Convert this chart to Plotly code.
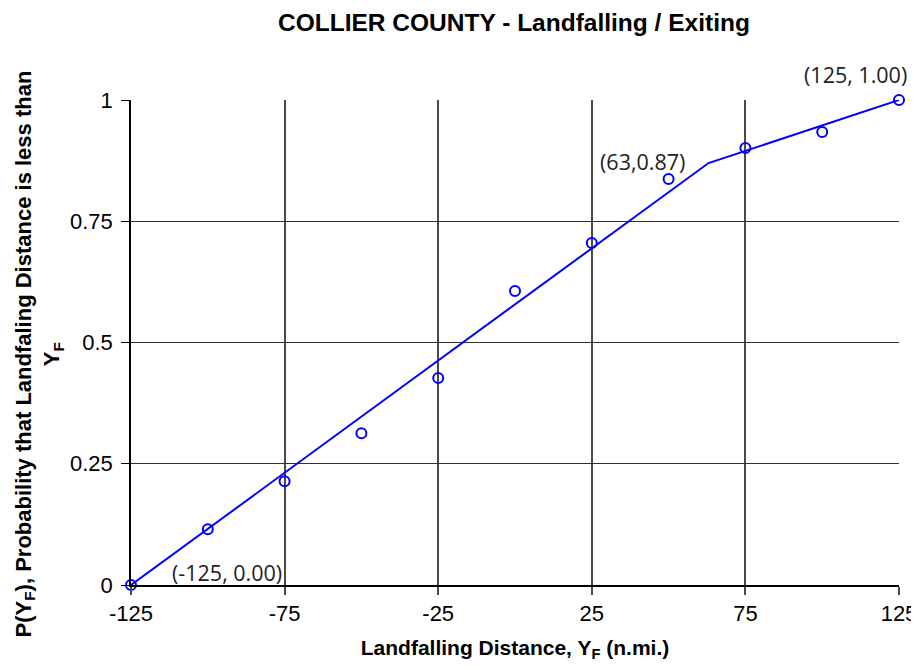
import plotly.graph_objects as go

# Data
distances = [-125, -100, -75, -50, -25, 0, 25, 50, 75, 100, 125]
probabilities = [0.0, 0.115, 0.214, 0.313, 0.427, 0.606, 0.705, 0.837, 0.901, 0.934, 1.0]
fit_x = [-125, 63, 125]
fit_y = [0.0, 0.87, 1.0]
label_texts = ["(-125, 0.00)", "(63,0.87)", "(125, 1.00)"]
label_x = [-93.8, 41.5, 111.0]
label_y = [0.026, 0.874, 1.0]
label_shift = [0, 0, 26]

x_ticks = [-125, -75, -25, 25, 75, 125]
y_ticks = [0, 0.25, 0.5, 0.75, 1]
y_tick_text = ["0", "0.25", "0.5", "0.75", "1"]

BLUE = "#0000FF"
FONT = "Liberation Sans, Arial"

fig = go.Figure()
fig.add_trace(go.Scatter(x=fit_x, y=fit_y, mode="lines",
                         line=dict(color=BLUE, width=2), cliponaxis=False,
                         showlegend=False, hoverinfo="skip"))
fig.add_trace(go.Scatter(x=distances, y=probabilities, mode="markers",
                         marker=dict(symbol="circle-open", size=10, color=BLUE,
                                     line=dict(color=BLUE, width=2)),
                         cliponaxis=False, showlegend=False))

for t, ax, ay, sh in zip(label_texts, label_x, label_y, label_shift):
    fig.add_annotation(x=ax, y=ay, text=t, showarrow=False, xref="x", yref="y",
                       yshift=sh,
                       font=dict(family="Open Sans", size=21.5, color="#222222"))

# Y axis title (as rotated annotation for exact placement)
fig.add_annotation(
    text="<b>P(Y<sub>F</sub>), Probability that Landfaling Distance is less than<br>Y<sub>F</sub></b>",
    xref="paper", yref="paper", x=0, y=0.5, xanchor="center", yanchor="middle",
    xshift=-93, yshift=-12, textangle=-90, showarrow=False,
    font=dict(size=22, family=FONT, color="black"))

fig.update_layout(
    width=911, height=654,
    margin=dict(l=123, r=20, t=92, b=77),
    paper_bgcolor="white", plot_bgcolor="white",
    title=dict(text="<b>COLLIER COUNTY - Landfalling / Exiting</b>",
               x=0.5554, xanchor="center", y=0.9786, yanchor="middle",
               font=dict(family=FONT, size=24.5, color="black")),
    font=dict(family=FONT, color="black"),
)

fig.update_xaxes(range=[-125, 125], tickvals=x_ticks,
                 ticktext=[str(v) for v in x_ticks],
                 showgrid=True, gridcolor="#4a4a4a", gridwidth=1.5,
                 showline=True, linecolor="black", linewidth=1.5,
                 ticks="outside", ticklen=8, tickcolor="#4a4a4a", tickwidth=1.5,
                 tickfont=dict(size=22, family=FONT),
                 ticklabeloverflow="allow",
                 zeroline=False, automargin=False,
                 title=dict(text="<b>Landfalling Distance, Y<sub>F</sub> (n.mi.)</b>",
                            font=dict(size=21, family=FONT),
                            standoff=26))
fig.update_yaxes(range=[0, 1], tickvals=y_ticks, ticktext=y_tick_text,
                 showgrid=True, gridcolor="#333333", gridwidth=1.3,
                 showline=True, linecolor="black", linewidth=1.5,
                 ticks="outside", ticklen=8, tickcolor="black", tickwidth=1.3,
                 tickfont=dict(size=22, family=FONT),
                 ticklabeloverflow="allow", ticklabelstandoff=4,
                 zeroline=False, automargin=False)

fig.write_html("out.html")
